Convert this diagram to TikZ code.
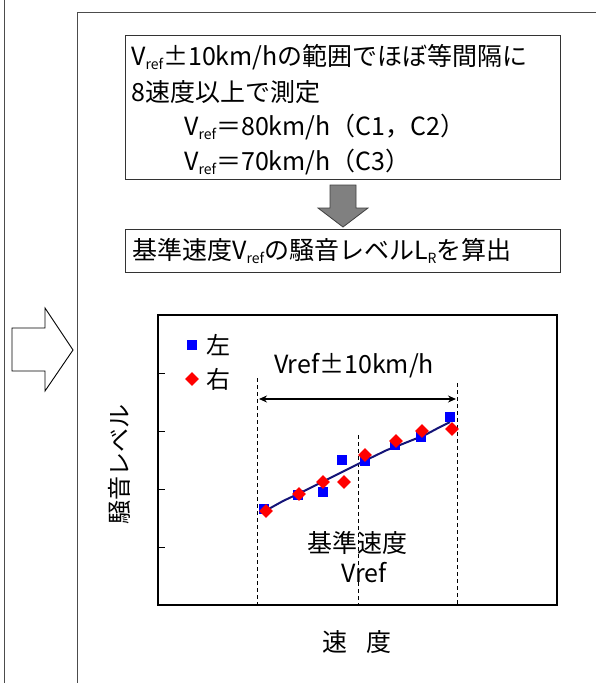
\documentclass[tikz,border=0pt]{standalone}
\usepackage{fontspec}
\setmainfont{Noto Sans CJK JP}
\usetikzlibrary{arrows.meta,shapes.geometric}
\newcommand\mysub[1]{\raisebox{-0.3ex}{\fontsize{14}{14}\selectfont #1}}
\definecolor{fitblue}{RGB}{20,20,120}
\definecolor{arrgray}{RGB}{128,128,128}
\begin{document}
\begin{tikzpicture}[x=1pt,y=-1pt,
  outer/.style={draw=black!70, line width=0.9pt},
  tbox/.style={draw=black!80, line width=0.9pt},
  txt/.style={font=\fontsize{25}{25}\selectfont, inner sep=0pt},
  ctxt/.style={font=\fontsize{24}{24}\selectfont, inner sep=0pt},
  chartframe/.style={draw=black, line width=2.6pt},
  guide/.style={draw=black, line width=0.8pt, dash pattern=on 4pt off 3pt},
  lsq/.style={rectangle, fill=blue, minimum size=10pt, inner sep=0pt},
  rdm/.style={diamond, fill=red, minimum size=14pt, inner sep=0pt},
  tick/.style={draw=black, line width=0.9pt}]
\useasboundingbox (0,0) rectangle (596,683);
\fill[white] (0,0) rectangle (596,683);
% outer frame lines
\draw[outer] (4.5,0) -- (4.5,683);
\draw[outer] (77,683) -- (77,12) -- (600,12);
% hollow right arrow
\draw[draw=black, line width=0.9pt, fill=white] (12,328) -- (45,328) -- (45,308) -- (73,350) -- (45,391) -- (45,371) -- (12,371) -- cycle;
% box 1
\node[tbox, minimum width=435pt, minimum height=144pt, anchor=north west, inner sep=0pt] (b1) at (125,35) {};
\node[txt, anchor=west] (t1) at (131,57) {V\mysub{ref}±10km/hの範囲でほぼ等間隔に};
\node[txt, anchor=west] (t2) at (131,92) {8速度以上で測定};
\node[txt, anchor=west] (t3) at (184,127) {V\mysub{ref}＝80km/h（C1，C2）};
\node[txt, anchor=west] (t4) at (184,162) {V\mysub{ref}＝70km/h（C3）};
% down block arrow
\draw[draw=black!75, line width=0.8pt, fill=arrgray] (330,185) -- (356,185) -- (356,208) -- (368,208) -- (343,227) -- (318,208) -- (330,208) -- cycle;
% box 2
\node[tbox, minimum width=435pt, minimum height=43pt, anchor=north west, inner sep=0pt] (b2) at (125,229) {};
\node[txt, anchor=west] (t5) at (132,251) {基準速度V\mysub{ref}の騒音レベルL\mysub{R}を算出};
% chart frame
\draw[chartframe] (158,315) rectangle (557,605);
\foreach \yy in {373,431,489,547} \draw[tick] (158,\yy) -- (165,\yy);
% guides
\draw[guide] (257,378) -- (257,605);
\draw[guide] (358,435) -- (358,605);
\draw[guide] (457,383) -- (457,605);
% range arrow
\coordinate (ra) at (259,399);
\coordinate (rb) at (456,399);
\draw[line width=1.4pt, {Stealth[length=8pt,width=7pt]}-{Stealth[length=8pt,width=7pt]}] (ra) -- (rb);
\node[font=\fontsize{25}{25}\selectfont, inner sep=0pt] (rng) at (354,366) {Vref±10km/h};
% fit line
\draw[fitblue, line width=2pt, line join=round] plot coordinates {(265,511) (283,501) (300,493) (330,478) (358,464) (387,450) (400,445) (425,435) (440,427) (450,422)};
% data left (blue squares)
\foreach \px/\py in {264/509, 298/495, 323/492, 342/460, 365/461, 395/445, 421/437, 450/417}
  \node[lsq] at (\px,\py) {};
% data right (red diamonds)
\foreach \px/\py in {266/511, 299/494, 323/482, 344/482, 365/455, 396/441, 422/431, 452/429}
  \node[rdm] at (\px,\py) {};
% legend
\node[lsq] (lg1) at (192,345) {};
\node[ctxt, anchor=west] (lgt1) at (206,345) {左};
\node[rdm] (lg2) at (192,379) {};
\node[ctxt, anchor=west] (lgt2) at (206,379) {右};
% labels
\node[font=\fontsize{25}{25}\selectfont, inner sep=0pt] (ref1) at (357,543) {基準速度};
\node[font=\fontsize{25}{25}\selectfont, inner sep=0pt] (ref2) at (364,573) {Vref};
\node[ctxt, rotate=90] (ylab) at (119,464) {騒音レベル};
\node[font=\fontsize{25}{25}\selectfont, inner sep=0pt] (xlab) at (357,642) {速\hspace{19pt}度};
\end{tikzpicture}
\end{document}
